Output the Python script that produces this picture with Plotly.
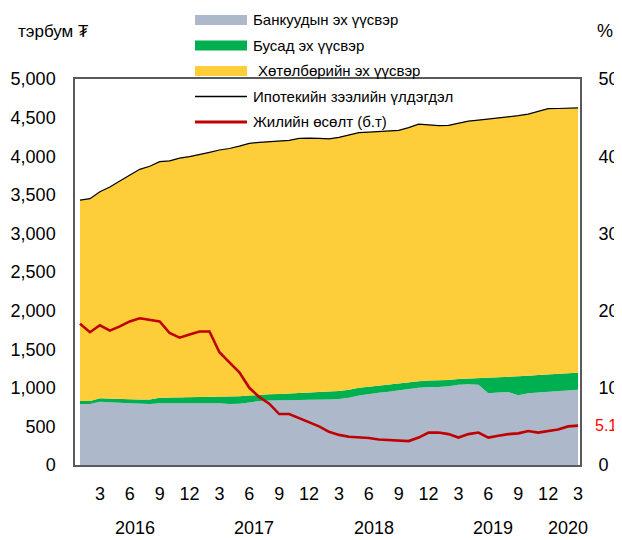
import pandas as pd
import plotly.graph_objects as go

# monthly, Jan 2016 .. Mar 2020
months = pd.date_range("2016-01-01", "2020-03-01", freq="MS")

# тэрбум ₮
bank = [790, 790, 820, 810, 805, 800, 795, 790, 800, 800, 800, 800,
        805, 800, 800, 790, 795, 810, 830, 835, 840, 840, 842, 845,
        845, 850, 855, 870, 900, 920, 935, 950, 970, 985, 1000, 1010,
        1010, 1020, 1040, 1045, 1040, 930, 940, 945, 905, 930, 940, 950,
        960, 965, 975]
other = [40, 40, 45, 48, 50, 52, 55, 58, 70, 72, 75, 75,
         73, 80, 82, 95, 95, 90, 80, 80, 80, 85, 88, 90,
         95, 98, 103, 105, 100, 95, 95, 95, 90, 90, 85, 85,
         85, 80, 75, 75, 85, 200, 195, 195, 243, 225, 225, 225,
         220, 223, 220]
program = [2600, 2620, 2675, 2742, 2825, 2908, 2980, 3022, 3060, 3068, 3100, 3120,
           3142, 3170, 3198, 3215, 3240, 3265, 3270, 3273, 3275, 3280, 3300, 3300,
           3290, 3277, 3287, 3300, 3305, 3297, 3290, 3283, 3275, 3295, 3330, 3310,
           3300, 3300, 3315, 3335, 3343, 3350, 3360, 3370, 3377, 3390, 3410, 3440,
           3438, 3432, 3430]
total = [3430, 3450, 3540, 3600, 3680, 3760, 3830, 3870, 3930, 3940, 3975, 3995,
         4020, 4050, 4080, 4100, 4130, 4165, 4180, 4188, 4195, 4205, 4230, 4235,
         4230, 4225, 4245, 4275, 4305, 4312, 4320, 4328, 4335, 4370, 4415, 4405,
         4395, 4400, 4430, 4455, 4468, 4480, 4495, 4510, 4525, 4545, 4575, 4615,
         4618, 4620, 4625]
# %
growth = [18.3, 17.2, 18.1, 17.4, 17.95, 18.6, 19.0, 18.8, 18.6, 17.1, 16.5, 16.9,
          17.3, 17.3, 14.6, 13.3, 12.0, 10.0, 8.8, 7.95, 6.6, 6.6, 6.1, 5.6,
          5.0, 4.3, 3.9, 3.65, 3.55, 3.5, 3.3, 3.25, 3.2, 3.1, 3.55, 4.2,
          4.2, 4.0, 3.55, 4.0, 4.2, 3.55, 3.8, 4.0, 4.1, 4.4, 4.2, 4.4,
          4.6, 5.0, 5.1]

names = ["Банкуудын эх үүсвэр", "Бусад эх үүсвэр", "Хөтөлбөрийн эх үүсвэр",
         "Ипотекийн зээлийн үлдэгдэл", "Жилийн өсөлт (б.т)"]

GRAY = "#adb9ca"
GREEN = "#00b050"
YELLOW = "#fdcd3a"
RED = "#c00000"
FONT = "Liberation Sans, Arial, sans-serif"

idx = list(range(len(months)))

fig = go.Figure()
for vals, col, nm in [(bank, GRAY, names[0]), (other, GREEN, names[1]), (program, YELLOW, names[2])]:
    fig.add_trace(go.Scatter(x=idx, y=vals, name=nm, mode="lines", stackgroup="src",
                             fillcolor=col, line=dict(width=0, color=col)))
fig.add_trace(go.Scatter(x=idx, y=total, name=names[3], mode="lines",
                         line=dict(color="black", width=1.2)))
fig.add_trace(go.Scatter(x=idx, y=growth, name=names[4], mode="lines", yaxis="y2",
                         line=dict(color=RED, width=2.6)))

# month ticks and year labels
tickvals = [i for i, m in enumerate(months) if m.month % 3 == 0]
ticktext = [str(months[i].month) for i in tickvals]

# the page body has an 8px margin, so the figure is a bit smaller than the window
OFF = 8
W, H = 622 - OFF, 540 - OFF
L, R, T, B = 67, 42, 71, 75
pw, ph = W - L - R, H - T - B


def px_x(x):
    # page pixel -> paper
    return (x - OFF - L) / pw


def px_y(y):
    return (OFF + H - B - y) / ph


annotations = []
for yr in sorted(set(months.year)):
    pos = [i for i, m in enumerate(months) if m.year == yr]
    annotations.append(dict(x=sum(pos) / len(pos), xref="x", y=px_y(528), yref="paper",
                            xanchor="center", yanchor="middle",
                            text=str(yr), showarrow=False, font=dict(size=18)))

annotations.append(dict(x=px_x(53), y=px_y(31), xref="paper", yref="paper", text="тэрбум ₮",
                        xanchor="center", yanchor="middle", showarrow=False, font=dict(size=17)))
annotations.append(dict(x=px_x(605), y=px_y(31), xref="paper", yref="paper", text="%",
                        xanchor="center", yanchor="middle", showarrow=False, font=dict(size=18)))
annotations.append(dict(x=px_x(594), xref="paper", y=growth[-1], yref="y2",
                        xanchor="left", yanchor="middle", borderpad=0,
                        text=f"{growth[-1]:.1f}", showarrow=False, font=dict(size=16, color="#ff0000")))

# legend drawn by hand so swatches match the original
shapes = []
legend_items = [("box", GRAY), ("box", GREEN), ("box", YELLOW), ("line", "black"), ("line", RED)]
for k, ((kind, col), nm) in enumerate(zip(legend_items, names)):
    cy = 20 + 25.5 * k
    if kind == "box":
        shapes.append(dict(type="rect", xref="paper", yref="paper",
                           x0=px_x(195), x1=px_x(247), y0=px_y(cy + 5), y1=px_y(cy - 5),
                           fillcolor=col, line=dict(width=0)))
    else:
        shapes.append(dict(type="line", xref="paper", yref="paper",
                           x0=px_x(195), x1=px_x(247), y0=px_y(cy), y1=px_y(cy),
                           line=dict(color=col, width=1.3 if col == "black" else 3)))
    annotations.append(dict(x=px_x(251 + (5 if k == 2 else 0)), y=px_y(cy), xref="paper", yref="paper",
                            xanchor="left", yanchor="middle", text=nm, showarrow=False,
                            font=dict(size=15)))

axis_common = dict(showgrid=False, zeroline=False, automargin=False,
                   ticks="outside", tickcolor="rgba(0,0,0,0)", tickfont=dict(size=18))

fig.update_layout(
    width=W, height=H,
    margin=dict(l=L, r=R, t=T, b=B),
    paper_bgcolor="white", plot_bgcolor="white",
    font=dict(family=FONT, color="black"),
    showlegend=False,
    xaxis=dict(range=[-0.5, 50.2], tickvals=tickvals, ticktext=ticktext,
               showline=True, mirror=True, linecolor="#5a5a5a", linewidth=1.5,
               ticklen=12, **axis_common),
    yaxis=dict(range=[0, 5000], dtick=500, tickformat=",",
               showline=True, mirror=True, linecolor="#5a5a5a", linewidth=1.5,
               ticklen=14, **axis_common),
    yaxis2=dict(range=[0, 50], dtick=10, overlaying="y", side="right",
                showline=False, ticklen=14, **axis_common),
    shapes=shapes,
    annotations=annotations,
)

fig.write_html("out.html")
